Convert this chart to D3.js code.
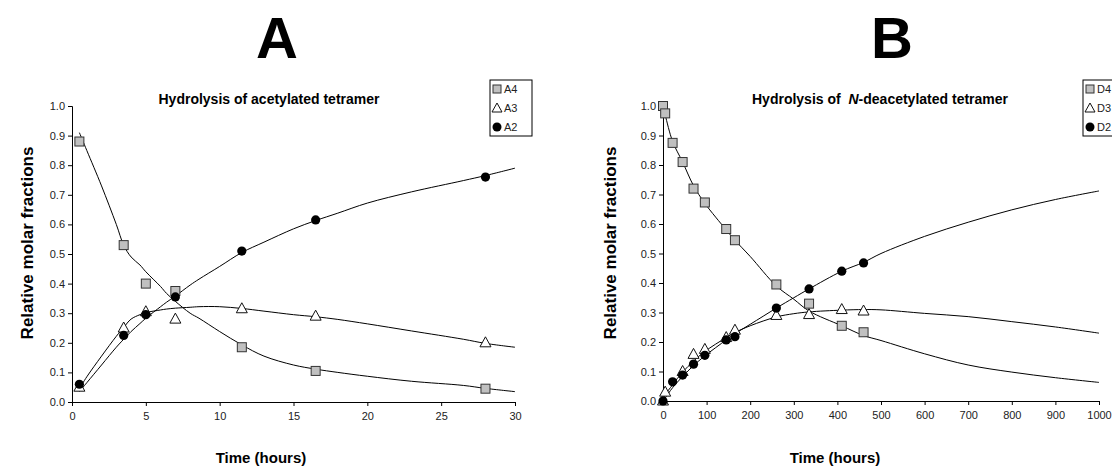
<!DOCTYPE html>
<html>
<head>
<meta charset="utf-8">
<script src="https://cdn.jsdelivr.net/npm/d3@7/dist/d3.min.js"></script>
<style>
  html, body { margin: 0; padding: 0; background: #fff; }
  svg { display: block; font-family: "Liberation Sans", Arial, Helvetica, sans-serif; }
</style>
</head>
<body>
<svg id="figure" width="1112" height="468"></svg>
<script>
// ---- Panel A: hydrolysis of acetylated tetramer (time in hours) ----
const timeA = [0.5, 3.5, 5, 7, 11.5, 16.5, 28];
const fracA4 = [0.88, 0.53, 0.40, 0.375, 0.185, 0.105, 0.045];
const fracA3 = [0.05, 0.25, 0.305, 0.28, 0.315, 0.29, 0.20];
const fracA2 = [0.06, 0.225, 0.295, 0.355, 0.51, 0.615, 0.76];

// model curves for panel A
const fitTimeA = [0.5, 1, 2, 3, 3.5, 4, 4.6, 5, 6, 6.4, 7, 8, 8.6, 10, 11.5, 13, 15, 16.5, 18, 20, 23, 26.5, 28, 30];
const fitA4 = [0.91, 0.85, 0.73, 0.60, 0.53, 0.49, 0.463, 0.44, 0.39, 0.367, 0.34, 0.30, 0.283, 0.238, 0.193, 0.155, 0.125, 0.111, 0.10, 0.087, 0.07, 0.056, 0.046, 0.035];
const fitA3 = [0.045, 0.085, 0.155, 0.222, 0.252, 0.28, 0.295, 0.302, 0.311, 0.314, 0.317, 0.32, 0.322, 0.322, 0.316, 0.307, 0.295, 0.288, 0.279, 0.264, 0.24, 0.212, 0.198, 0.185];
const fitA2 = [0.035, 0.065, 0.125, 0.185, 0.212, 0.238, 0.265, 0.283, 0.322, 0.337, 0.358, 0.395, 0.415, 0.458, 0.505, 0.54, 0.585, 0.613, 0.638, 0.672, 0.71, 0.748, 0.765, 0.79];

// ---- Panel B: hydrolysis of N-deacetylated tetramer (time in hours) ----
const timeB4 = [0, 5, 22, 45, 70, 96, 145, 165, 260, 335, 410, 460];
const fracD4 = [1.0, 0.975, 0.875, 0.81, 0.72, 0.673, 0.583, 0.545, 0.395, 0.33, 0.255, 0.233];
const timeB3 = [0, 5, 45, 70, 96, 145, 165, 260, 335, 410, 460];
const fracD3 = [0.0, 0.03, 0.10, 0.158, 0.175, 0.215, 0.24, 0.29, 0.293, 0.31, 0.305];
const timeB2 = [0, 22, 45, 70, 96, 145, 165, 260, 335, 410, 460];
const fracD2 = [0.0, 0.065, 0.088, 0.125, 0.155, 0.207, 0.218, 0.315, 0.38, 0.44, 0.468];

// model curves for panel B
const fitTimeB = [0, 5, 22, 45, 70, 96, 145, 165, 200, 260, 300, 335, 410, 460, 500, 600, 700, 800, 900, 1000];
const fitD4 = [1.0, 0.97, 0.88, 0.81, 0.73, 0.67, 0.58, 0.545, 0.49, 0.39, 0.345, 0.305, 0.255, 0.222, 0.205, 0.16, 0.122, 0.098, 0.079, 0.063];
const fitD3 = [0.0, 0.02, 0.055, 0.098, 0.135, 0.168, 0.215, 0.232, 0.255, 0.285, 0.296, 0.302, 0.308, 0.31, 0.309, 0.297, 0.286, 0.269, 0.251, 0.23];
const fitD2 = [0.0, 0.01, 0.045, 0.083, 0.12, 0.153, 0.207, 0.228, 0.26, 0.315, 0.35, 0.38, 0.44, 0.47, 0.5, 0.558, 0.606, 0.648, 0.683, 0.712];

const yTicks = [0, 0.1, 0.2, 0.3, 0.4, 0.5, 0.6, 0.7, 0.8, 0.9, 1.0];
const xTicksA = [0, 5, 10, 15, 20, 25, 30];
const xTicksB = [0, 100, 200, 300, 400, 500, 600, 700, 800, 900, 1000];

const svg = d3.select("#figure");

function marker(g, kind, x, y) {
  if (kind === "square") {
    g.append("rect").attr("x", x - 4.5).attr("y", y - 4.5).attr("width", 9).attr("height", 9)
      .attr("fill", "#c0c0c0").attr("stroke", "#333").attr("stroke-width", 1);
  } else if (kind === "triangle") {
    g.append("path").attr("d", `M${x},${y - 6}L${x + 5.5},${y + 4}L${x - 5.5},${y + 4}Z`)
      .attr("fill", "#fff").attr("stroke", "#111").attr("stroke-width", 1);
  } else {
    g.append("circle").attr("cx", x).attr("cy", y).attr("r", 4.6).attr("fill", "#000");
  }
}

function panel(p) {
  const x = d3.scaleLinear().domain(p.xDomain).range(p.xRange);
  const y = d3.scaleLinear().domain([0, 1]).range([p.yBottom, p.yTop]);
  const g = svg.append("g");

  // axes
  const yAxis = d3.axisLeft(y).tickValues(yTicks).tickFormat(d3.format(".1f")).tickSize(4).tickPadding(3);
  const xAxis = d3.axisBottom(x).tickValues(p.xTicks).tickFormat(d3.format("d")).tickSize(4).tickPadding(6);
  const ya = g.append("g").attr("transform", `translate(${p.xRange[0]},0)`).call(yAxis);
  const xa = g.append("g").attr("transform", `translate(0,${p.yBottom})`).call(xAxis);
  [ya, xa].forEach(a => {
    a.select(".domain").attr("stroke", "#000");
    a.selectAll(".tick line").attr("stroke", "#000");
    a.selectAll("text").attr("font-size", 11).attr("fill", "#222")
      .attr("font-family", "'Liberation Sans', Arial, sans-serif");
  });

  // fitted curves
  const line = d3.line().x(d => x(d[0])).y(d => y(d[1])).curve(d3.curveCatmullRom.alpha(0.5));
  p.fits.forEach(f => {
    g.append("path").datum(d3.zip(f.t, f.v)).attr("d", line)
      .attr("fill", "none").attr("stroke", "#000").attr("stroke-width", 1);
  });

  // measured points
  p.series.forEach(s => {
    s.t.forEach((t, i) => marker(g, s.kind, x(t), y(s.v[i])));
  });

  // big panel letter
  g.append("text").attr("x", p.letterX).attr("y", 58).attr("text-anchor", "middle")
    .attr("font-size", 58).attr("font-weight", "bold").text(p.letter);

  // axis titles
  g.append("text").attr("transform", `translate(${p.yTitleX},243) rotate(-90)`)
    .attr("text-anchor", "middle").attr("dy", "0.35em")
    .attr("font-size", 17).attr("font-weight", "bold").text("Relative molar fractions");
  g.append("text").attr("x", p.xTitleX).attr("y", 463).attr("text-anchor", "middle")
    .attr("font-size", 15).attr("font-weight", "bold").text("Time (hours)");

  // legend
  const lg = g.append("g").attr("transform", `translate(${p.legendX},80)`);
  lg.append("rect").attr("width", 42).attr("height", 56).attr("fill", "#fff").attr("stroke", "#000").attr("stroke-width", 1);
  p.series.forEach((s, i) => {
    const cy = 9 + i * 19;
    const k = lg.append("g");
    if (s.kind === "square") {
      k.append("rect").attr("x", 3).attr("y", cy - 4).attr("width", 8).attr("height", 8)
        .attr("fill", "#c0c0c0").attr("stroke", "#333");
    } else if (s.kind === "triangle") {
      k.append("path").attr("d", `M7,${cy - 5}L12,${cy + 4}L2,${cy + 4}Z`).attr("fill", "#fff").attr("stroke", "#111");
    } else {
      k.append("circle").attr("cx", 7).attr("cy", cy).attr("r", 4.5).attr("fill", "#000");
    }
    lg.append("text").attr("x", 14).attr("y", cy + 4).attr("font-size", 11).attr("fill", "#222").text(s.name);
  });

  return g;
}

const gA = panel({
  letter: "A", letterX: 277,
  xDomain: [0, 30], xRange: [72, 515], yBottom: 402, yTop: 106, xTicks: xTicksA,
  yTitleX: 27, xTitleX: 261, legendX: 490,
  fits: [{ t: fitTimeA, v: fitA4 }, { t: fitTimeA, v: fitA3 }, { t: fitTimeA, v: fitA2 }],
  series: [
    { name: "A4", kind: "square", t: timeA, v: fracA4 },
    { name: "A3", kind: "triangle", t: timeA, v: fracA3 },
    { name: "A2", kind: "circle", t: timeA, v: fracA2 }
  ]
});
gA.append("text").attr("x", 269).attr("y", 104).attr("text-anchor", "middle")
  .attr("font-size", 14).attr("font-weight", "bold").text("Hydrolysis of acetylated tetramer");

const gB = panel({
  letter: "B", letterX: 892,
  xDomain: [0, 1000], xRange: [663, 1099], yBottom: 401, yTop: 106, xTicks: xTicksB,
  yTitleX: 610, xTitleX: 835, legendX: 1083,
  fits: [{ t: fitTimeB, v: fitD4 }, { t: fitTimeB, v: fitD3 }, { t: fitTimeB, v: fitD2 }],
  series: [
    { name: "D4", kind: "square", t: timeB4, v: fracD4 },
    { name: "D3", kind: "triangle", t: timeB3, v: fracD3 },
    { name: "D2", kind: "circle", t: timeB2, v: fracD2 }
  ]
});
const subB = gB.append("text").attr("x", 880).attr("y", 104).attr("text-anchor", "middle")
  .attr("font-size", 14).attr("font-weight", "bold");
subB.append("tspan").text("Hydrolysis of\u00a0\u00a0");
subB.append("tspan").attr("font-style", "italic").text("N");
subB.append("tspan").text("-deacetylated tetramer");
</script>
</body>
</html>
